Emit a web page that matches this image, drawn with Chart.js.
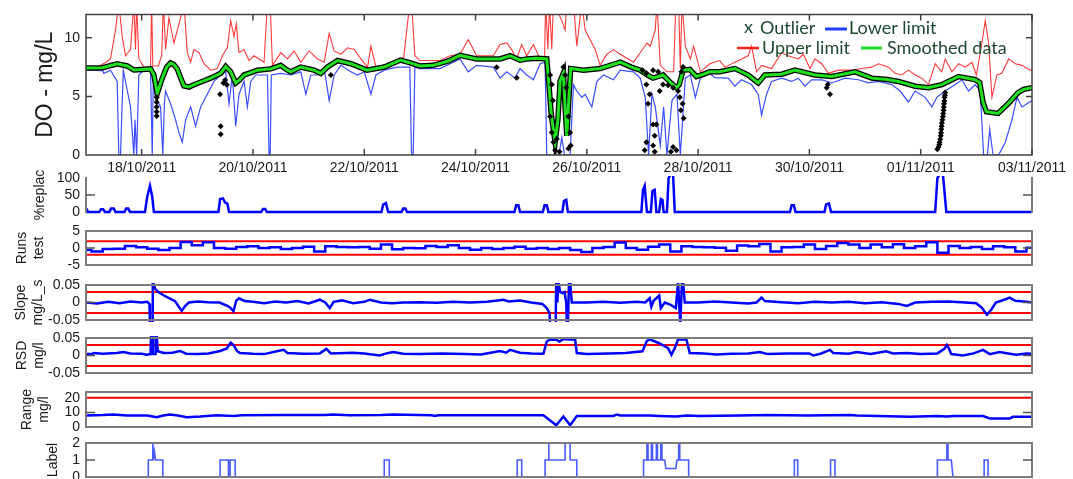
<!DOCTYPE html>
<html><head><meta charset="utf-8">
<script src="https://cdn.jsdelivr.net/npm/chart.js@4.4.1/dist/chart.umd.min.js"></script>
<style>
html,body{margin:0;padding:0;background:#fff;overflow:hidden;}
#wrap{position:relative;width:1073px;height:479px;overflow:hidden;background:#fff;}
#wrap canvas{position:absolute;left:0;top:0;}
</style></head><body><div id="wrap">
<canvas id="p0" width="1073" height="520"></canvas>
<canvas id="p1" width="1073" height="520"></canvas>
<canvas id="p2" width="1073" height="520"></canvas>
<canvas id="p3" width="1073" height="520"></canvas>
<canvas id="p4" width="1073" height="520"></canvas>
<canvas id="p5" width="1073" height="520"></canvas>
<canvas id="p6" width="1073" height="520"></canvas>
</div>
<script>
// ---------- DATA (x = days since 17/10/2011 00:00) ----------
const X_MIN = 0, X_MAX = 17;
const X_TICKS = [1,3,5,7,9,11,13,15,17];
const X_TICK_LABELS = ['18/10/2011','20/10/2011','22/10/2011','24/10/2011','26/10/2011','28/10/2011','30/10/2011','01/11/2011','03/11/2011'];

const DO_TICKS = [0,5,10];
const SMOOTHED = [[0,7.43],[0.3,7.45],[0.56,7.79],[0.74,7.6],[0.86,7.25],[1.0,7.3],[1.16,7.35],[1.22,6.83],[1.28,5.25],[1.37,6.56],[1.45,7.5],[1.52,7.85],[1.58,7.7],[1.64,7.35],[1.7,6.6],[1.76,5.9],[1.85,5.8],[1.94,6.0],[2.1,6.3],[2.24,6.56],[2.42,6.97],[2.51,7.55],[2.6,7.1],[2.69,6.15],[2.76,6.4],[2.84,6.83],[3.0,7.1],[3.08,7.24],[3.32,7.35],[3.5,7.65],[3.6,7.3],[3.68,7.1],[3.86,7.5],[4.1,7.24],[4.22,6.97],[4.34,7.51],[4.52,8.06],[4.76,7.79],[5.05,7.24],[5.36,7.51],[5.65,8.1],[5.8,7.9],[6.0,7.6],[6.24,7.65],[6.5,8.0],[6.72,8.5],[7.02,8.2],[7.44,8.2],[7.62,8.47],[7.8,8.1],[7.92,8.2],[8.1,8.25],[8.28,8.2],[8.32,6.0],[8.36,3.5],[8.43,1.1],[8.48,3.0],[8.52,6.3],[8.58,7.0],[8.61,4.0],[8.64,1.64],[8.68,5.0],[8.71,7.38],[8.94,7.24],[9.24,7.38],[9.6,7.92],[9.8,7.5],[9.96,7.24],[10.1,6.8],[10.19,6.56],[10.37,6.83],[10.5,6.2],[10.61,5.74],[10.66,6.0],[10.73,7.24],[10.85,7.3],[10.97,6.7],[11.1,6.9],[11.21,7.1],[11.39,7.1],[11.66,7.38],[11.9,6.83],[12.08,6.15],[12.2,6.83],[12.5,6.9],[12.74,7.24],[13.1,6.83],[13.4,6.7],[13.82,7.1],[14.12,6.56],[14.4,6.45],[14.6,6.28],[14.9,5.87],[15.14,5.74],[15.38,6.0],[15.68,6.7],[15.98,6.43],[16.06,6.2],[16.12,4.5],[16.18,3.69],[16.39,3.55],[16.57,4.37],[16.75,5.33],[16.85,5.6],[17.0,5.74]];

const UPPER_LIMIT = [[0,7.5],[0.2,7.5],[0.35,7.9],[0.44,8.2],[0.53,10.66],[0.59,13],[0.65,10.1],[0.71,8.47],[0.8,9.0],[0.86,13],[0.89,9],[0.91,13],[0.95,8.2],[1.04,7.5],[1.16,7.5],[1.18,13],[1.2,7.6],[1.3,7.6],[1.36,8.5],[1.39,13],[1.43,9.0],[1.49,11.7],[1.58,9.56],[1.7,11.7],[1.76,13],[1.82,8.74],[1.88,7.92],[1.94,9.0],[2.03,8.74],[2.12,7.79],[2.24,7.24],[2.36,7.38],[2.45,8.47],[2.54,9.15],[2.6,11.47],[2.66,10.1],[2.7,11.2],[2.75,8.74],[2.84,9.0],[2.93,8.06],[3.02,8.47],[3.11,8.2],[3.2,7.92],[3.26,13],[3.31,13],[3.35,7.65],[3.5,8.74],[3.62,8.2],[3.74,8.88],[3.86,7.92],[4.01,8.88],[4.16,8.2],[4.28,7.92],[4.37,10.38],[4.46,8.88],[4.58,8.6],[4.7,9.15],[4.82,9.0],[4.94,8.2],[5.06,7.5],[5.12,9.29],[5.21,7.5],[5.48,7.79],[5.64,8.2],[5.71,8.33],[5.79,11.75],[5.85,13],[5.91,8.47],[6.0,8.06],[6.36,8.06],[6.54,8.47],[6.72,8.6],[6.87,9.84],[7.02,8.47],[7.32,8.47],[7.44,9.43],[7.56,9.56],[7.65,9.0],[7.74,8.2],[7.83,9.43],[7.92,8.47],[8.04,9.43],[8.16,8.2],[8.24,8.2],[8.26,13],[8.3,9],[8.33,13],[8.37,9],[8.4,13],[8.55,11.47],[8.61,10.66],[8.64,13],[8.76,13],[8.82,9.29],[8.91,13],[8.97,10.66],[9.06,9.84],[9.15,9.0],[9.24,7.65],[9.36,8.6],[9.48,9.0],[9.6,8.6],[9.84,7.92],[10.08,9.56],[10.14,9.29],[10.23,10.66],[10.26,13],[10.32,7.65],[10.44,7.1],[10.56,7.1],[10.6,13],[10.65,13],[10.68,7.38],[10.71,13],[10.77,9.29],[10.86,8.2],[10.92,9.29],[11.04,7.1],[11.21,7.79],[11.39,8.06],[11.48,7.5],[11.66,7.92],[11.78,8.2],[11.9,8.47],[11.96,9.29],[12.05,7.1],[12.14,7.65],[12.32,7.38],[12.5,8.74],[12.62,8.47],[12.8,8.2],[12.89,8.6],[13.01,7.38],[13.1,8.2],[13.22,7.79],[13.34,6.97],[13.52,7.24],[13.76,7.24],[13.94,7.38],[14.12,7.5],[14.24,7.79],[14.42,7.5],[14.54,6.97],[14.66,6.83],[14.78,7.24],[14.9,6.83],[15.02,6.56],[15.14,6.01],[15.26,7.79],[15.38,7.1],[15.44,8.2],[15.56,7.1],[15.68,7.79],[15.8,7.5],[15.92,7.92],[16.0,6.83],[16.1,9.56],[16.16,11.47],[16.22,9.56],[16.28,4.92],[16.37,6.83],[16.46,6.97],[16.58,8.2],[16.7,7.79],[16.82,7.65],[16.91,7.38],[17.0,7.2]];

const LOWER_LIMIT = [[0,7.24],[0.3,7.2],[0.32,6.97],[0.44,7.24],[0.56,6.28],[0.59,0],[0.62,0],[0.67,7.24],[0.8,4.1],[0.86,0],[0.88,3],[0.91,0],[0.95,6.83],[1.04,7.24],[1.16,7.24],[1.19,0],[1.21,6.5],[1.25,4.92],[1.34,4.1],[1.38,0],[1.41,4.5],[1.43,5.46],[1.52,4.37],[1.61,3.0],[1.67,1.91],[1.73,1.09],[1.79,3.0],[1.88,4.1],[1.97,2.46],[2.06,4.1],[2.18,5.19],[2.3,6.28],[2.42,6.83],[2.51,7.1],[2.57,4.37],[2.63,6.83],[2.69,2.46],[2.75,5.19],[2.84,6.28],[2.9,4.1],[2.96,6.28],[3.05,6.83],[3.26,6.83],[3.29,0],[3.31,0],[3.33,6.83],[3.5,6.97],[3.68,6.83],[3.86,7.1],[3.95,5.19],[4.04,6.83],[4.16,6.83],[4.28,7.38],[4.37,4.65],[4.46,6.83],[4.58,7.65],[4.76,7.1],[4.88,6.83],[5.0,7.1],[5.12,5.19],[5.21,6.83],[5.36,7.24],[5.59,7.5],[5.82,7.5],[5.85,0],[5.88,0],[5.91,7.5],[6.0,7.38],[6.36,7.38],[6.72,8.2],[6.87,7.1],[7.02,7.65],[7.32,7.5],[7.44,6.56],[7.56,7.1],[7.71,6.56],[7.8,7.38],[7.92,6.83],[8.04,6.42],[8.16,7.79],[8.25,7.92],[8.28,0],[8.5,0],[8.55,1.5],[8.6,0],[8.7,0],[8.76,6.0],[8.82,5.46],[8.91,4.92],[8.97,5.19],[9.09,4.1],[9.18,6.28],[9.3,6.83],[9.48,6.42],[9.6,7.24],[9.84,7.1],[9.96,6.56],[10.05,4.92],[10.11,0],[10.17,5.19],[10.23,4.1],[10.32,0.82],[10.38,4.1],[10.44,0],[10.53,4.65],[10.62,5.19],[10.68,0],[10.77,6.56],[10.86,6.83],[10.95,4.92],[11.04,6.56],[11.21,6.97],[11.3,6.6],[11.54,6.56],[11.66,5.87],[11.78,6.42],[11.96,6.01],[12.08,5.19],[12.14,3.42],[12.23,5.19],[12.32,6.28],[12.5,6.56],[12.68,6.28],[12.8,6.56],[12.92,5.87],[13.04,6.42],[13.22,6.42],[13.4,6.15],[13.64,6.56],[13.88,6.42],[14.06,6.15],[14.24,6.28],[14.48,6.01],[14.63,5.46],[14.78,4.51],[14.9,5.46],[15.08,4.92],[15.2,4.1],[15.29,4.92],[15.44,5.46],[15.62,6.01],[15.74,6.42],[15.86,5.46],[15.98,6.01],[16.07,5.46],[16.13,0],[16.2,0],[16.24,2.19],[16.3,0],[16.4,0],[16.52,1.09],[16.64,3.0],[16.73,4.92],[16.82,4.1],[17.0,4.65]];

const OUTLIERS = [[1.27,4.92],[1.27,4.51],[1.27,4.1],[1.27,3.69],[1.27,3.33],[2.41,5.19],[2.42,2.46],[2.42,1.78],[2.47,6.15],[2.5,6.4],[2.53,6.0],[4.4,6.83],[7.38,7.5],[7.74,6.6],
[8.34,6.83],[8.37,6.01],[8.39,4.65],[8.34,3.28],[8.37,1.91],[8.40,1.09],[8.43,0.41],[8.46,1.37],[8.51,0.27],[8.58,7.51],[8.61,6.83],[8.63,5.74],[8.67,3.28],[8.70,1.91],[8.71,0.82],[8.67,0.55],
[10.0,7.24],[10.07,6.97],[10.19,7.24],[10.28,7.1],[10.07,6.01],[10.13,5.19],[10.10,4.37],[10.07,1.09],[10.04,0.41],[10.19,0.82],[10.22,0.27],[10.25,2.6],[10.22,1.64],[10.31,5.46],[10.37,6.01],[10.46,5.96],[10.55,5.74],[10.64,5.46],[10.67,4.92],[10.72,4.37],[10.69,3.83],[10.74,3.14],[10.55,0.68],[10.61,0.41],[10.51,0.27],[10.70,7.1],[10.73,7.51],[10.19,2.6],
[13.33,6.01],[13.31,5.74],[13.37,5.19],
[15.44,5.33],[15.435,5.1],[15.43,4.92],[15.425,4.6],[15.42,4.37],[15.415,4.1],[15.41,3.83],[15.405,3.55],[15.4,3.28],[15.39,3.0],[15.38,2.73],[15.375,2.45],[15.37,2.19],[15.365,1.9],[15.36,1.64],[15.35,1.35],[15.34,1.09],[15.335,0.9],[15.32,0.68],[15.3,0.49]];

const REPLAC_TICKS = [0,50,100];
const REPLAC = [[0,0],[0.01,8],[0.04,0],[0.24,0],[0.27,8],[0.31,8],[0.34,0],[0.42,0],[0.45,10],[0.5,10],[0.53,0],[0.69,0],[0.72,10],[0.76,10],[0.79,0],[1.06,0],[1.1,45],[1.15,77],[1.19,45],[1.22,0],[2.38,0],[2.41,38],[2.46,40],[2.5,28],[2.54,25],[2.57,0],[3.15,0],[3.18,9],[3.22,9],[3.25,0],[5.31,0],[5.34,22],[5.39,26],[5.43,0],[5.67,0],[5.7,10],[5.74,10],[5.77,0],[7.70,0],[7.73,20],[7.77,20],[7.80,0],[8.21,0],[8.24,20],[8.28,20],[8.31,0],[8.56,0],[8.59,33],[8.63,36],[8.66,0],[9.98,0],[10.01,65],[10.04,77],[10.08,0],[10.15,0],[10.18,62],[10.22,65],[10.25,0],[10.3,0],[10.33,38],[10.36,35],[10.38,0],[10.44,0],[10.47,100],[10.5,110],[10.55,110],[10.58,0],[12.65,0],[12.68,20],[12.72,20],[12.75,0],[13.27,0],[13.3,22],[13.35,25],[13.39,0],[15.26,0],[15.3,100],[15.34,110],[15.4,110],[15.46,0],[17,0]];

const RUNS_TICKS = [-5,0,5];
const RUNS_LIMITS = [-2,2];
const RUNS_STEP = 0.2;
const RUNS = [-0.6,-1.0,-0.3,-0.2,0.6,0.2,-0.2,-0.6,0,1.8,0.8,1.7,0,-0.2,0.3,0.5,0,0.2,-0.3,0,0.4,-1.0,0.5,0.3,
0.2,0.3,-0.2,1.0,-0.4,0,-0.1,0.6,0.3,0.8,0,-0.5,0,-0.3,0,0.4,-0.2,0,-0.3,0,-0.6,-1.2,0,0.3,1.6,0,-0.5,0.4,1.0,-1.0,0.5,
0.3,0.2,0.1,-0.8,0.7,0.5,1.2,-1.0,0.2,0.3,1.0,-0.3,0.6,1.5,1.0,0,1.0,0.2,1.1,0,0.5,1.7,-1.4,0.6,0,0.3,-0.3,0.5,0.2,-1.0,0.1];

const SLOPE_TICKS = [-0.05,0,0.05];
const SLOPE_LIMITS = [-0.03,0.03];
const SLOPE = [[0,0],[0.2,-0.003],[0.4,0.002],[0.6,-0.002],[0.8,0.003],[1.0,0],[1.1,0.002],[1.14,-0.004],[1.15,-0.06],[1.19,-0.06],[1.2,0.06],[1.24,0.04],[1.3,0.03],[1.4,0.02],[1.5,0.012],[1.6,0.004],[1.68,-0.015],[1.72,-0.024],[1.78,-0.01],[1.85,0.0],[2.0,0.003],[2.2,0.001],[2.4,0.0],[2.55,-0.01],[2.6,-0.016],[2.65,-0.025],[2.7,0.005],[2.75,0.012],[2.85,0.004],[3.0,0.002],[3.2,-0.002],[3.4,0.003],[3.6,0.0],[3.8,0.004],[4.0,-0.003],[4.2,0.008],[4.3,0.0],[4.38,-0.016],[4.45,0.002],[4.6,0.006],[4.8,-0.002],[5.0,0.002],[5.1,0.008],[5.3,0.0],[5.5,-0.002],[5.7,0.0],[6.0,0.001],[6.3,-0.001],[6.6,0.002],[6.9,0.0],[7.2,0.002],[7.4,0.006],[7.5,0.008],[7.6,0.003],[7.8,0.006],[8.0,0.0],[8.2,-0.004],[8.28,-0.016],[8.33,-0.03],[8.34,-0.06],[8.44,-0.06],[8.45,0.06],[8.47,0.0],[8.49,0.06],[8.52,0.03],[8.56,0.027],[8.6,0.03],[8.63,0.0],[8.64,-0.06],[8.66,-0.06],[8.68,0.06],[8.7,0.06],[8.73,0.0],[9.0,0.0],[9.3,0.002],[9.6,-0.001],[9.9,0.002],[10.05,0.0],[10.13,0.012],[10.16,-0.012],[10.2,0.005],[10.3,0.02],[10.33,-0.016],[10.4,0.0],[10.5,-0.006],[10.6,-0.016],[10.64,0.06],[10.66,-0.01],[10.68,-0.06],[10.71,0.06],[10.73,0.06],[10.76,0.0],[11.0,0.0],[11.3,0.003],[11.6,0.0],[11.9,-0.003],[12.05,0.0],[12.14,0.014],[12.2,0.004],[12.5,0.001],[12.8,-0.002],[13.1,0.002],[13.4,0.0],[13.7,0.002],[14.0,-0.002],[14.3,0.001],[14.6,-0.004],[14.75,-0.01],[14.9,0.0],[15.2,0.002],[15.5,0.003],[15.8,0.0],[16.0,-0.002],[16.1,-0.015],[16.19,-0.035],[16.27,-0.02],[16.35,0.0],[16.5,0.008],[16.6,0.014],[16.7,0.005],[16.9,0.002],[17.0,0.0]];

const RSD_TICKS = [-0.05,0,0.05];
const RSD_LIMITS = [-0.03,0.03];
const RSD = [[0,0.004],[0.1,0.004],[0.14,0.007],[0.3,0.005],[0.55,0.007],[0.67,0.01],[0.8,0.006],[1.0,0.005],[1.09,0.002],[1.16,0.004],[1.17,0.06],[1.19,0.06],[1.2,0.004],[1.24,0.004],[1.25,0.06],[1.27,0.06],[1.29,0.012],[1.4,0.007],[1.55,0.008],[1.69,0.013],[1.8,0.005],[2.0,0.004],[2.2,0.006],[2.41,0.013],[2.53,0.02],[2.6,0.037],[2.65,0.03],[2.72,0.012],[2.77,0.007],[3.0,0.005],[3.2,0.004],[3.43,0.012],[3.55,0.016],[3.62,0.007],[3.9,0.005],[4.2,0.006],[4.32,0.019],[4.4,0.006],[4.8,0.008],[5.0,0.006],[5.28,0.0],[5.4,0.006],[5.52,0.01],[5.7,0.005],[6.0,0.004],[6.4,0.006],[6.8,0.004],[7.1,0.003],[7.44,0.013],[7.55,0.008],[7.62,0.016],[7.8,0.008],[8.0,0.006],[8.22,0.005],[8.28,0.04],[8.34,0.046],[8.45,0.045],[8.51,0.04],[8.58,0.047],[8.79,0.045],[8.82,0.007],[9.0,0.004],[9.4,0.006],[9.7,0.007],[10.0,0.012],[10.08,0.042],[10.13,0.046],[10.3,0.035],[10.46,0.021],[10.52,0.002],[10.58,0.021],[10.64,0.046],[10.79,0.046],[10.85,0.007],[11.1,0.006],[11.33,0.003],[11.6,0.005],[11.9,0.006],[12.11,0.01],[12.25,0.004],[12.6,0.006],[13.0,0.006],[13.07,0.0],[13.2,0.005],[13.37,0.016],[13.43,0.007],[13.7,0.005],[13.85,0.01],[14.1,0.004],[14.38,0.012],[14.5,0.006],[14.75,0.007],[15.0,0.004],[15.3,0.006],[15.43,0.02],[15.47,0.03],[15.5,0.022],[15.55,0.004],[15.76,0.0],[15.95,0.006],[16.12,0.016],[16.24,0.004],[16.42,0.01],[16.6,0.005],[16.72,0.002],[16.9,0.006],[17.0,0.005]];

const RANGE_TICKS = [0,10,20];
const RANGE_LIMITS = [0,20];
const RANGE = [[0,7.9],[0.3,8.2],[0.49,8.6],[0.73,7.9],[1.1,7.9],[1.27,6.7],[1.39,7.9],[1.51,8.5],[1.65,7.9],[1.81,6.7],[2.05,7.2],[2.35,8.1],[2.65,7.5],[2.8,8.1],[3.5,8.2],[4.3,8.3],[4.44,8.6],[4.74,8.0],[5.3,8.2],[5.52,8.6],[6.21,8.1],[6.27,7.5],[6.33,8.1],[8.22,8.1],[8.45,1.2],[8.58,7.2],[8.70,1.2],[8.82,7.5],[9.48,7.6],[9.54,8.6],[9.6,7.9],[10.13,7.9],[10.3,7.6],[10.61,7.2],[10.79,7.9],[11.03,7.5],[11.75,7.9],[12.23,8.2],[12.95,7.9],[13.73,8.2],[13.85,7.9],[14.81,7.0],[15.29,7.5],[15.47,7.2],[15.6,7.5],[16.12,7.5],[16.24,5.9],[16.6,5.9],[16.66,7.0],[17.0,7.0]];

const LABEL_TICKS = [0,1,2];
const LABEL = [[0,0],[1.12,0],[1.12,1],[1.19,1],[1.2,2],[1.21,1],[1.23,1.5],[1.25,1],[1.38,1],[1.38,0],[2.41,0],[2.41,1],[2.56,1],[2.56,0],[2.59,0],[2.59,1],[2.68,1],[2.68,0],[5.36,0],[5.36,1],[5.45,1],[5.45,0],[7.75,0],[7.75,1],[7.83,1],[7.83,0],[8.25,0],[8.25,1],[8.31,1],[8.31,2],[8.32,2],[8.32,1],[8.61,1],[8.61,2],[8.7,2],[8.7,1],[8.82,1],[8.82,0],[10.02,0],[10.02,1],[10.08,1],[10.08,2],[10.1,2],[10.1,1],[10.16,1],[10.16,2],[10.18,2],[10.18,1],[10.25,1],[10.25,2],[10.27,2],[10.27,1],[10.33,1],[10.33,2],[10.35,2],[10.35,1],[10.4,1],[10.42,0.5],[10.6,0.5],[10.62,1],[10.65,1],[10.65,2],[10.67,2],[10.67,1],[10.83,1],[10.83,0],[12.73,0],[12.73,1],[12.79,1],[12.79,0],[13.38,0],[13.38,1],[13.46,1],[13.46,0],[15.3,0],[15.3,1],[15.47,1],[15.47,2],[15.49,2],[15.49,1],[15.55,1],[15.58,0],[16.14,0],[16.14,1],[16.21,1],[16.21,0],[17,0]];

const LEGEND_LABELS = ['Outlier','Lower limit','Upper limit','Smoothed data'];

// ---------- RENDERING ----------
const FONT = "'Liberation Sans', Arial, Helvetica, sans-serif";
const CANVAS_H = 520, CANVAS_W = 1073, PLOT_RIGHT = 1032, AXIS_W = 86, XAXIS_H = 22;

const toXY = arr => arr.map(p => ({x: p[0], y: p[1]}));
const hline = v => [{x: X_MIN, y: v}, {x: X_MAX, y: v}];

const framePlugin = {
  id: 'frame',
  afterDatasetsDraw(chart, args, o) {
    const {ctx, chartArea: a, scales} = chart;
    ctx.save();
    ctx.strokeStyle = o.color; ctx.lineWidth = o.width; ctx.lineCap = 'butt';
    ctx.beginPath();
    const s = o.sides;
    if (s.includes('t')) { ctx.moveTo(a.left, a.top); ctx.lineTo(a.right, a.top); }
    if (s.includes('b')) { ctx.moveTo(a.left, a.bottom); ctx.lineTo(a.right, a.bottom); }
    if (s.includes('l')) { ctx.moveTo(a.left, a.top - o.width/2); ctx.lineTo(a.left, a.bottom + o.width/2); }
    if (s.includes('r')) { ctx.moveTo(a.right, a.top - o.width/2); ctx.lineTo(a.right, a.bottom + o.width/2); }
    ctx.stroke();
    ctx.strokeStyle = o.markColor; ctx.lineWidth = o.markWidth;
    ctx.beginPath();
    (o.yMarks || []).forEach(v => {
      const y = scales.y.getPixelForValue(v);
      ctx.moveTo(a.left, y); ctx.lineTo(a.left + o.markLen, y);
      ctx.moveTo(a.right, y); ctx.lineTo(a.right - o.markLen, y);
    });
    (o.xMarks || []).forEach(v => {
      const x = scales.x.getPixelForValue(v);
      ctx.moveTo(x, a.bottom); ctx.lineTo(x, a.bottom - o.markLen);
      ctx.moveTo(x, a.top); ctx.lineTo(x, a.top + o.markLen);
    });
    ctx.stroke();
    ctx.restore();
  }
};

const doLegendPlugin = {
  id: 'doLegend',
  afterDraw(chart, args, o) {
    if (!o.show) return;
    const ctx = chart.ctx;
    ctx.save();
    ctx.textBaseline = 'middle'; ctx.textAlign = 'left';
    ctx.font = "18px Lato, 'Noto Sans', sans-serif";
    ctx.fillStyle = '#1d4a2c';
    ctx.fillText('x', 744, 27);
    ctx.fillText(LEGEND_LABELS[0], 760, 28);
    ctx.strokeStyle = '#1f3cff'; ctx.lineWidth = 3;
    ctx.beginPath(); ctx.moveTo(825, 29); ctx.lineTo(847, 29); ctx.stroke();
    ctx.fillText(LEGEND_LABELS[1], 849, 28);
    ctx.strokeStyle = '#ff2020'; ctx.lineWidth = 2.5;
    ctx.beginPath(); ctx.moveTo(737, 48); ctx.lineTo(759, 48); ctx.stroke();
    ctx.fillText(LEGEND_LABELS[2], 762, 48);
    ctx.strokeStyle = '#22e022'; ctx.lineWidth = 3;
    ctx.beginPath(); ctx.moveTo(861, 48); ctx.lineTo(882, 48); ctx.stroke();
    ctx.fillText(LEGEND_LABELS[3], 887, 48);
    ctx.restore();
  }
};

function makePanel(id, c) {
  const showX = !!c.showX;
  return new Chart(document.getElementById(id), {
    type: 'line',
    data: { datasets: c.datasets },
    options: {
      responsive: false, animation: false, events: [],
      layout: { padding: { left: 0, right: CANVAS_W - PLOT_RIGHT, top: c.top,
                           bottom: CANVAS_H - c.bottom - (showX ? XAXIS_H : 0) } },
      elements: { point: { radius: 0 }, line: { tension: 0 } },
      plugins: {
        legend: { display: false }, tooltip: { enabled: false },
        frame: c.frame, doLegend: { show: !!c.legend }
      },
      scales: {
        x: {
          type: 'linear', min: X_MIN, max: X_MAX, display: showX,
          afterBuildTicks: s => { s.ticks = X_TICKS.map(v => ({value: v})); },
          afterFit: s => { s.height = showX ? XAXIS_H : 0; },
          grid: { display: false, drawTicks: false }, border: { display: false },
          ticks: { autoSkip: false, maxRotation: 0, padding: 5, color: '#1a1a1a',
                   font: { family: FONT, size: 14 },
                   callback: v => X_TICK_LABELS[X_TICKS.indexOf(v)] }
        },
        y: {
          type: 'linear', min: c.min, max: c.max,
          afterBuildTicks: s => { s.ticks = c.ticks.map(v => ({value: v})); },
          afterFit: s => { s.width = AXIS_W; },
          grid: { display: false, drawTicks: false }, border: { display: false },
          ticks: { autoSkip: false, padding: 6, color: '#1a1a1a',
                   font: { family: FONT, size: c.tickSize || 14 },
                   callback: v => String(v) },
          title: { display: true, text: c.title, color: '#1a1a1a',
                   font: { family: FONT, size: c.titleSize || 14, lineHeight: 1.25 },
                   padding: { top: c.titlePad, bottom: 0 } }
        }
      }
    },
    plugins: [framePlugin, doLegendPlugin]
  });
}

const LOWER_FRAME = (sides, marks) => ({ sides, color: '#7c7c7c', width: 2, markColor: '#555', markWidth: 1.5, markLen: 9, yMarks: marks, xMarks: [] });
const blueLine = (data, extra) => Object.assign({ data, borderColor: '#0000ff', borderWidth: 2.5, order: 0, clip: 2 }, extra || {});
const redLine = v => ({ data: hline(v), borderColor: '#ff0000', borderWidth: 2, order: 1, clip: 2 });

makePanel('p0', {
  top: 10, bottom: 155, min: 0, max: 12, ticks: DO_TICKS, showX: true, legend: true,
  title: 'DO - mg/L', titleSize: 23, titlePad: 31, tickSize: 14,
  frame: { sides: 'tblr', color: '#404040', width: 1.5, markColor: '#404040', markWidth: 1.5, markLen: 6, yMarks: [5, 10], xMarks: X_TICKS },
  datasets: [
    { label: LEGEND_LABELS[0], type: 'scatter', data: toXY(OUTLIERS), showLine: false, pointStyle: 'rectRot', pointRadius: 3, backgroundColor: '#000', borderColor: '#000', borderWidth: 0, order: 0 },
    { label: LEGEND_LABELS[3], data: toXY(SMOOTHED), borderColor: '#1fe01f', borderWidth: 3, order: 1, clip: 0 },
    { label: 'data', data: toXY(SMOOTHED), borderColor: '#000', borderWidth: 5.5, order: 2, clip: 0 },
    { label: LEGEND_LABELS[1], data: toXY(LOWER_LIMIT), borderColor: '#3a4dff', borderWidth: 1.2, order: 3, clip: 0 },
    { label: LEGEND_LABELS[2], data: toXY(UPPER_LIMIT), borderColor: '#ff3a3a', borderWidth: 1.1, order: 4, clip: 0 }
  ]
});

makePanel('p1', {
  top: 178, bottom: 212, min: 0, max: 100, ticks: REPLAC_TICKS,
  title: '%replac', titlePad: 31,
  frame: LOWER_FRAME('lr', [50]),
  datasets: [ blueLine(toXY(REPLAC)) ]
});

makePanel('p2', {
  top: 231, bottom: 265, min: -5, max: 5, ticks: RUNS_TICKS,
  title: ['Runs', 'test'], titlePad: 13,
  frame: LOWER_FRAME('tblr', [0]),
  datasets: [ blueLine(RUNS.map((v, i) => ({x: i * RUNS_STEP, y: v})), { stepped: 'middle' }),
              ...RUNS_LIMITS.map(redLine) ]
});

makePanel('p3', {
  top: 285, bottom: 320, min: -0.05, max: 0.05, ticks: SLOPE_TICKS,
  title: ['Slope', 'mg/L_s'], titlePad: 12,
  frame: LOWER_FRAME('tblr', [0]),
  datasets: [ blueLine(toXY(SLOPE)), ...SLOPE_LIMITS.map(redLine) ]
});

makePanel('p4', {
  top: 338, bottom: 373, min: -0.05, max: 0.05, ticks: RSD_TICKS,
  title: ['RSD', 'mg/l'], titlePad: 13,
  frame: LOWER_FRAME('tblr', [0]),
  datasets: [ blueLine(toXY(RSD)), ...RSD_LIMITS.map(redLine) ]
});

makePanel('p5', {
  top: 392, bottom: 427, min: 0, max: 24, ticks: RANGE_TICKS,
  title: ['Range', 'mg/l'], titlePad: 18,
  frame: LOWER_FRAME('tblr', [10]),
  datasets: [ blueLine(toXY(RANGE)), ...RANGE_LIMITS.map(redLine) ]
});

makePanel('p6', {
  top: 443, bottom: 477, min: 0, max: 2, ticks: LABEL_TICKS,
  title: 'Label', titlePad: 44,
  frame: LOWER_FRAME('tblr', [1]),
  datasets: [ blueLine(toXY(LABEL), { borderColor: '#4a5cff', borderWidth: 1.6 }) ]
});
</script>
</body></html>
